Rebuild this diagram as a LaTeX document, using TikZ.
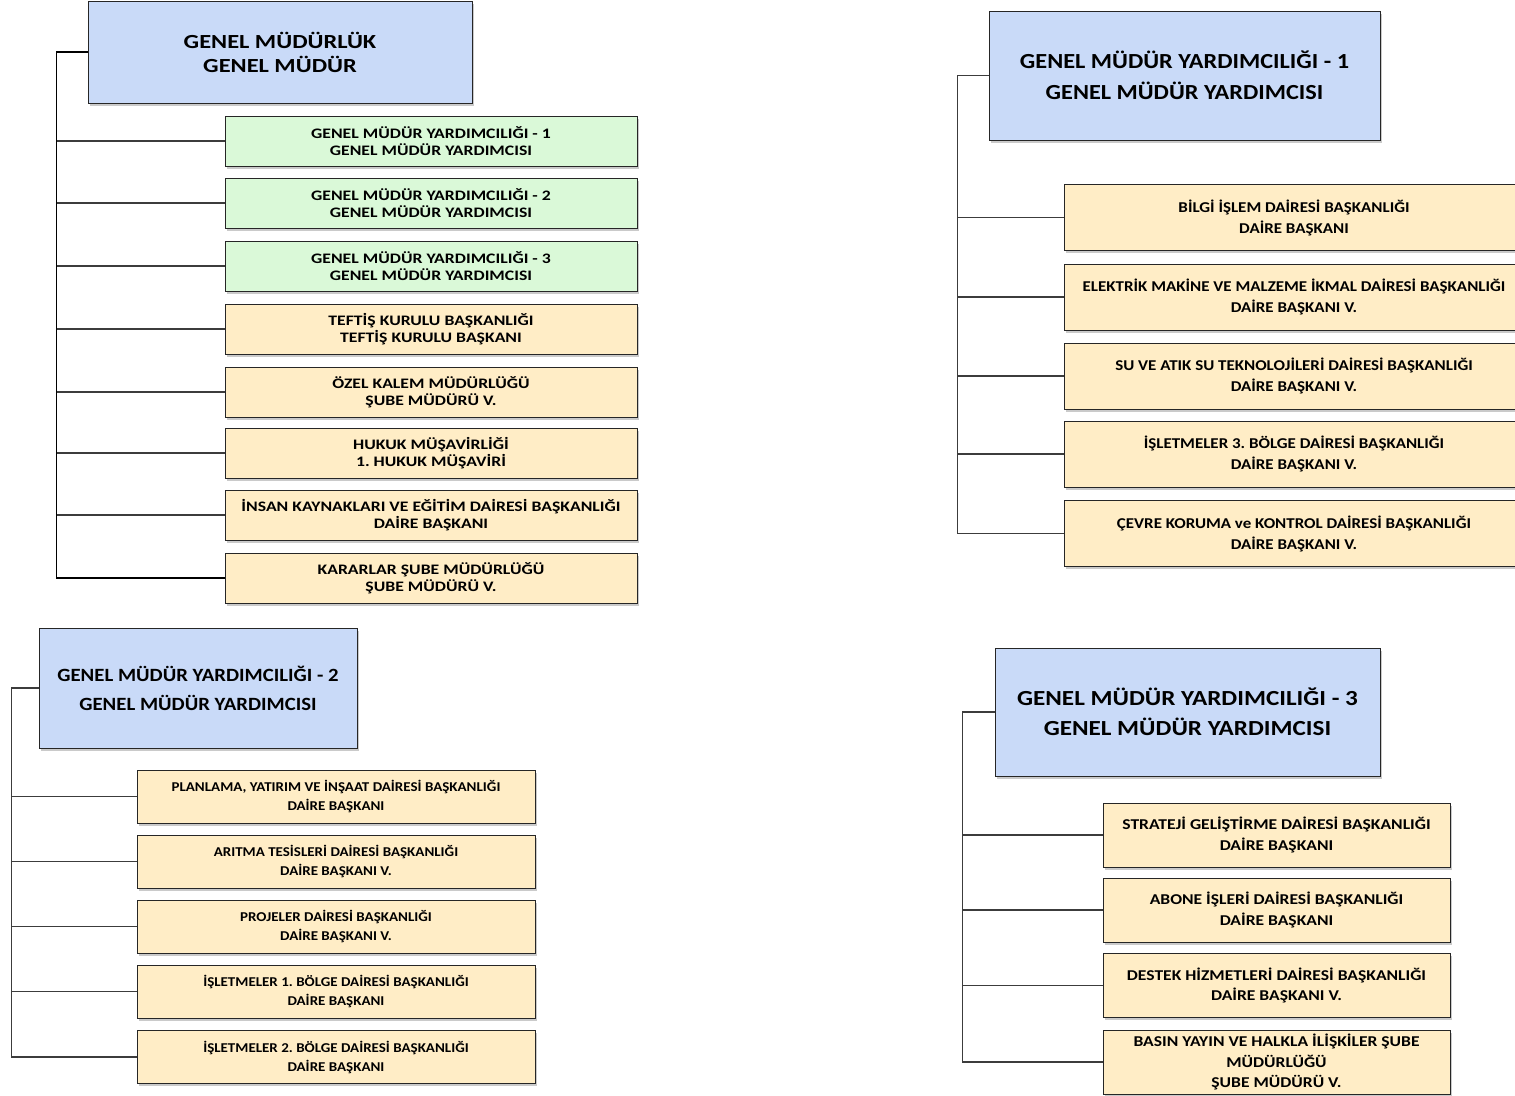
\documentclass[tikz,border=0pt]{standalone}
\usepackage{fontspec}
\setmainfont{Carlito}
\newfontfamily\yaziBir[FakeStretch=1.22]{Carlito}
\newfontfamily\yaziIki[FakeStretch=1.11]{Carlito}
\newfontfamily\yaziUc[FakeStretch=1.13]{Carlito}
\newfontfamily\yaziDort[FakeStretch=1.17]{Carlito}
\usetikzlibrary{shadows}
\definecolor{mavi}{RGB}{201,218,248}
\definecolor{yesil}{RGB}{218,249,216}
\definecolor{sari}{RGB}{255,237,198}
\definecolor{cizgi}{RGB}{60,60,60}
\frenchspacing

\begin{document}
\begin{tikzpicture}[x=1pt, y=-1pt,
	kutu/.style={draw=black!85, line width=1pt, align=center, inner sep=0pt,
		drop shadow={shadow xshift=2pt, shadow yshift=-2.5pt, opacity=0.35, fill=black!60}},
	ust/.style={kutu, fill=mavi},
	gmy/.style={kutu, fill=yesil},
	birim/.style={kutu, fill=sari},
	hat/.style={draw=cizgi, line width=1.2pt}]
	\useasboundingbox (0,0) rectangle (1515,1095);
	%%%	Genel Mudurluk
	\node[ust, minimum width=384pt, minimum height=102pt, font=\yaziBir\bfseries\fontsize{20}{24}\selectfont] (gm) at (280,52) {GENEL MÜDÜRLÜK\\GENEL MÜDÜR};
	\tikzset{every node/.append style={minimum width=412pt, minimum height=50pt, font=\yaziBir\bfseries\fontsize{14.5}{17}\selectfont}}
	\node[gmy] (k1) at (431,141) {GENEL MÜDÜR YARDIMCILIĞI - 1\\GENEL MÜDÜR YARDIMCISI};
	\node[gmy] (k2) at (431,203) {GENEL MÜDÜR YARDIMCILIĞI - 2\\GENEL MÜDÜR YARDIMCISI};
	\node[gmy] (k3) at (431,266) {GENEL MÜDÜR YARDIMCILIĞI - 3\\GENEL MÜDÜR YARDIMCISI};
	\node[birim] (k4) at (431,329) {TEFTİŞ KURULU BAŞKANLIĞI\\TEFTİŞ KURULU BAŞKANI};
	\node[birim] (k5) at (431,392) {ÖZEL KALEM MÜDÜRLÜĞÜ\\ŞUBE MÜDÜRÜ V.};
	\node[birim] (k6) at (431,453) {HUKUK MÜŞAVİRLİĞİ\\1. HUKUK MÜŞAVİRİ};
	\node[birim] (k7) at (431,515) {İNSAN KAYNAKLARI VE EĞİTİM DAİRESİ BAŞKANLIĞI\\DAİRE BAŞKANI};
	\node[birim] (k8) at (431,578) {KARARLAR ŞUBE MÜDÜRLÜĞÜ\\ŞUBE MÜDÜRÜ V.};
	\draw[hat, line width=1.6pt, draw=black] (gm.west) -- ++(-31,0) |- (k8.west);
	\foreach \i in {1,...,7}
	\draw[hat] (k\i.west) -- ++(-168,0);
	%%%	GMY - 2
	\node[ust, minimum width=318pt, minimum height=120pt, font=\yaziIki\bfseries\fontsize{18.7}{29}\selectfont] (y2) at (198,688) {GENEL MÜDÜR YARDIMCILIĞI - 2\\GENEL MÜDÜR YARDIMCISI};
	\tikzset{every node/.append style={minimum width=398pt, minimum height=53pt, font=\yaziIki\bfseries\fontsize{13.5}{19}\selectfont}}
	\node[birim] (p1) at (336,796.5) {PLANLAMA, YATIRIM VE İNŞAAT DAİRESİ BAŞKANLIĞI\\DAİRE BAŞKANI};
	\node[birim] (p2) at (336,861.5) {ARITMA TESİSLERİ DAİRESİ BAŞKANLIĞI\\DAİRE BAŞKANI V.};
	\node[birim] (p3) at (336,926.5) {PROJELER DAİRESİ BAŞKANLIĞI\\DAİRE BAŞKANI V.};
	\node[birim] (p4) at (336,991.5) {İŞLETMELER 1. BÖLGE DAİRESİ BAŞKANLIĞI\\DAİRE BAŞKANI};
	\node[birim] (p5) at (336,1057) {İŞLETMELER 2. BÖLGE DAİRESİ BAŞKANLIĞI\\DAİRE BAŞKANI};
	\draw[hat] (y2.west) -- ++(-27,0) |- (p5.west);
	\foreach \i in {1,...,4}
	\draw[hat] (p\i.west) -- ++(-125,0);
	%%%	GMY - 1
	\node[ust, minimum width=391pt, minimum height=129pt, font=\yaziUc\bfseries\fontsize{21.5}{31}\selectfont] (y1) at (1184.5,75.5) {GENEL MÜDÜR YARDIMCILIĞI - 1\\GENEL MÜDÜR YARDIMCISI};
	\tikzset{every node/.append style={minimum width=460pt, minimum height=66pt, font=\yaziUc\bfseries\fontsize{15}{21}\selectfont}}
	\node[birim] (b1) at (1294,217.5) {BİLGİ İŞLEM DAİRESİ BAŞKANLIĞI\\DAİRE BAŞKANI};
	\node[birim] (b2) at (1294,297) {ELEKTRİK MAKİNE VE MALZEME İKMAL DAİRESİ BAŞKANLIĞI\\DAİRE BAŞKANI V.};
	\node[birim] (b3) at (1294,376) {SU VE ATIK SU TEKNOLOJİLERİ DAİRESİ BAŞKANLIĞI\\DAİRE BAŞKANI V.};
	\node[birim] (b4) at (1294,454) {İŞLETMELER 3. BÖLGE DAİRESİ BAŞKANLIĞI\\DAİRE BAŞKANI V.};
	\node[birim] (b5) at (1294,533.5) {ÇEVRE KORUMA ve KONTROL DAİRESİ BAŞKANLIĞI\\DAİRE BAŞKANI V.};
	\draw[hat] (y1.west) -- ++(-31,0) |- (b5.west);
	\foreach \i in {1,...,4}
	\draw[hat] (b\i.west) -- ++(-106,0);
	%%%	GMY - 3
	\node[ust, minimum width=385pt, minimum height=128pt, font=\yaziDort\bfseries\fontsize{21.5}{30}\selectfont] (y3) at (1187.5,712) {GENEL MÜDÜR YARDIMCILIĞI - 3\\GENEL MÜDÜR YARDIMCISI};
	\tikzset{every node/.append style={minimum width=347pt, minimum height=64pt, font=\yaziDort\bfseries\fontsize{15}{20.5}\selectfont}}
	\node[birim] (s1) at (1276.5,835) {STRATEJİ GELİŞTİRME DAİRESİ BAŞKANLIĞI\\DAİRE BAŞKANI};
	\node[birim] (s2) at (1276.5,910) {ABONE İŞLERİ DAİRESİ BAŞKANLIĞI\\DAİRE BAŞKANI};
	\node[birim] (s3) at (1276.5,985.5) {DESTEK HİZMETLERİ DAİRESİ BAŞKANLIĞI\\DAİRE BAŞKANI V.};
	\node[birim] (s4) at (1276.5,1062) {BASIN YAYIN VE HALKLA İLİŞKİLER ŞUBE\\MÜDÜRLÜĞÜ\\ŞUBE MÜDÜRÜ V.};
	\draw[hat] (y3.west) -- ++(-32,0) |- (s4.west);
	\foreach \i in {1,...,3}
	\draw[hat] (s\i.west) -- ++(-140,0);
\end{tikzpicture}
\end{document}
